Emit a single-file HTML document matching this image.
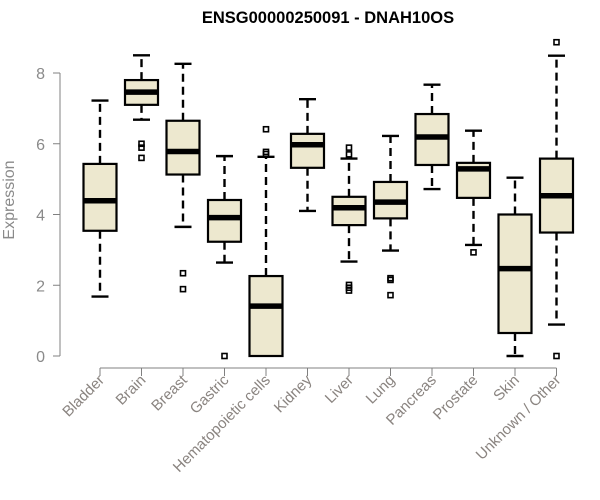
<!DOCTYPE html>
<html><head><meta charset="utf-8"><style>
body{margin:0;background:#fff;}
svg{display:block;font-family:"Liberation Sans",Arial,sans-serif;}
</style></head><body>
<svg id="chart" width="600" height="500" viewBox="0 0 600 500" xmlns="http://www.w3.org/2000/svg">
<text x="328" y="23" text-anchor="middle" font-weight="bold" font-size="16.5" fill="#000">ENSG00000250091 - DNAH10OS</text>
<text transform="translate(14,200) rotate(-90)" text-anchor="middle" font-size="16" fill="#8a8a8a">Expression</text>
<g id="axes"></g>
<g id="boxes"></g>
</svg>
<script>
const categories=["Bladder","Brain","Breast","Gastric","Hematopoietic cells","Kidney","Liver","Lung","Pancreas","Prostate","Skin","Unknown / Other"];
const whiskerLow=[1.68,6.68,3.65,2.64,0,4.10,2.67,2.98,4.72,3.14,0,0.89];
const q1=[3.54,7.10,5.13,3.23,0,5.32,3.70,3.89,5.40,4.47,0.65,3.49];
const medians=[4.39,7.46,5.78,3.91,1.41,5.97,4.19,4.35,6.19,5.29,2.47,4.53];
const q3=[5.43,7.80,6.65,4.41,2.26,6.28,4.50,4.92,6.84,5.46,4.00,5.58];
const whiskerHigh=[7.22,8.50,8.26,5.65,5.63,7.26,5.58,6.22,7.67,6.37,5.04,8.49];
const outliers=[[],[6.0,5.89,5.60],[2.34,1.89],[0],[6.41,5.77,5.71],[],[5.89,5.70,2.01,1.93,1.85],[2.20,2.15,1.72],[],[2.93],[],[8.87,0]];
const yTicks=[0,2,4,6,8];

const NS="http://www.w3.org/2000/svg";
const y=v=>356-v*35.375;
const x=i=>100+i*41.5;
function mk(tag,attrs,parent){const e=document.createElementNS(NS,tag);for(const k in attrs)e.setAttribute(k,attrs[k]);parent.appendChild(e);return e;}
const axes=document.getElementById('axes'),boxes=document.getElementById('boxes');
const grey="#808080";
let l=mk('line',{x1:60,x2:60,y1:y(0),y2:y(8),stroke:grey,'stroke-width':1},axes);


yTicks.forEach(t=>{
 let tk=mk('line',{x1:53,x2:60,y1:y(t),y2:y(t),stroke:grey},axes);
 
 
 let tx=mk('text',{x:45,y:y(t)+6,'text-anchor':'end','font-size':16,fill:'#8a8a8a'},axes);
 tx.textContent=t;
 
 
});
let xl=mk('line',{x1:x(0),x2:x(categories.length-1),y1:368,y2:368,stroke:grey},axes);


categories.forEach((c,i)=>{
 const cx=x(i);
 let tk=mk('line',{x1:cx,x2:cx,y1:368,y2:376,stroke:grey},axes);
 
 
 let tx=mk('text',{transform:`translate(${cx+5},${381}) rotate(-45)`,'text-anchor':'end','font-size':15,fill:'#8a8480'},axes);
 tx.textContent=c;
 
 
 const g=mk('g',{},boxes);
 
 
 const dash={stroke:'#000','stroke-width':2.4,'stroke-dasharray':'8,5'};
 if(whiskerHigh[i]>q3[i]){mk('line',Object.assign({x1:cx,x2:cx,y1:y(q3[i]),y2:y(whiskerHigh[i])},dash),g);}
 mk('line',{x1:cx-8.5,x2:cx+8.5,y1:y(whiskerHigh[i]),y2:y(whiskerHigh[i]),stroke:'#000','stroke-width':2.4},g);
 if(whiskerLow[i]<q1[i]){mk('line',Object.assign({x1:cx,x2:cx,y1:y(q1[i]),y2:y(whiskerLow[i])},dash),g);
 mk('line',{x1:cx-8.5,x2:cx+8.5,y1:y(whiskerLow[i]),y2:y(whiskerLow[i]),stroke:'#000','stroke-width':2.4},g);}
 mk('rect',{x:cx-16.5,y:y(q3[i]),width:33,height:y(q1[i])-y(q3[i]),fill:'#ede8cf',stroke:'#000','stroke-width':2.2},g);
 mk('line',{x1:cx-16.5,x2:cx+16.5,y1:y(medians[i]),y2:y(medians[i]),stroke:'#000','stroke-width':5.5},g);
 outliers[i].forEach(o=>{
  const p=mk('rect',{x:cx-2.5,y:y(o)-2.5,width:5,height:5,fill:'none',stroke:'#000','stroke-width':1.6},g);
  
  
 });
});
</script>
</body></html>
